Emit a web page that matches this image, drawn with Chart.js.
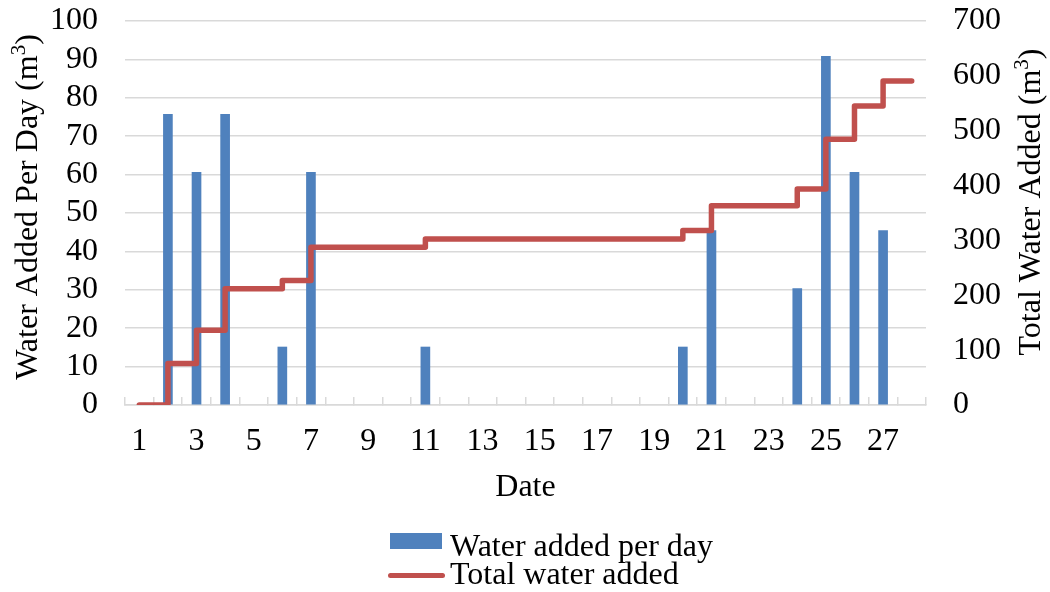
<!DOCTYPE html>
<html lang="en">
<head>
    <meta charset="UTF-8">
    <title>Water Added</title>
    <style>
        body {
            margin: 0;
            background-color: #ffffff;
            font-family: "Liberation Serif", "Times New Roman", serif;
        }
        .container {
            position: relative;
            width: 1050px;
            height: 592px;
        }
        .legend-item {
            position: absolute;
            left: 450px;
            font-size: 32px;
            line-height: 32px;
            color: #000000;
            white-space: nowrap;
        }
        .legend-bar {
            position: absolute;
            left: 390px;
            top: 533px;
            width: 52px;
            height: 16px;
            background-color: #4f81bd;
        }
        .legend-line {
            position: absolute;
            left: 388px;
            top: 573px;
            width: 57px;
            height: 5px;
            border-radius: 3px;
            background-color: #c0504d;
        }
    </style>
    <script src="https://cdn.jsdelivr.net/npm/chart.js"></script>
</head>
<body>
    <div class="container">
        <canvas id="waterChart"></canvas>
        <div class="legend-bar"></div>
        <div class="legend-item" style="top: 529px;">Water added per day</div>
        <div class="legend-line"></div>
        <div class="legend-item" style="top: 557px;">Total water added</div>
    </div>

    <script>
        // Days of the month
        const days = ['1', '2', '3', '4', '5', '6', '7', '8', '9', '10', '11', '12', '13', '14',
                      '15', '16', '17', '18', '19', '20', '21', '22', '23', '24', '25', '26', '27', '28'];

        // Water added per day (m3), left axis (null = nothing added)
        const dailyWater = [null, 75.7, 60.6, 75.7, null, 15.1, 60.6, null, null, null, 15.1, null, null, null,
                            null, null, null, null, null, 15.1, 45.4, null, null, 30.3, 90.8, 60.6, 45.4, null];

        // Total water added (m3), right axis
        const totalWater = [0, 75.7, 136.3, 212, 212, 227.1, 287.7, 287.7, 287.7, 287.7, 302.8, 302.8, 302.8, 302.8,
                            302.8, 302.8, 302.8, 302.8, 302.8, 317.9, 363.3, 363.3, 363.3, 393.6, 484.4, 545, 590.4, 590.4];

        const fontFamily = '"Liberation Serif", "Times New Roman", serif';
        const gridColor = '#d9d9d9';

        // Both axis titles read bottom-to-top and carry a superscript 3, so draw them ourselves
        const axisTitles = {
            id: 'axisTitles',
            afterDraw(chart) {
                const ctx = chart.ctx;
                const titles = [
                    { text: 'Water Added Per Day (m', x: 27, y: 207 },
                    { text: 'Total Water Added (m', x: 1030, y: 202 }
                ];
                const mainFont = '32px ' + fontFamily;
                const supFont = '21px ' + fontFamily;
                titles.forEach(function (t) {
                    ctx.save();
                    ctx.translate(t.x, t.y);
                    ctx.rotate(-Math.PI / 2);
                    ctx.fillStyle = '#000000';
                    ctx.textAlign = 'left';
                    ctx.textBaseline = 'alphabetic';
                    ctx.font = mainFont;
                    const w1 = ctx.measureText(t.text).width;
                    const w3 = ctx.measureText(')').width;
                    ctx.font = supFont;
                    const w2 = ctx.measureText('3').width;
                    const start = -(w1 + w2 + w3) / 2;
                    const base = 10;
                    ctx.font = mainFont;
                    ctx.fillText(t.text, start, base);
                    ctx.font = supFont;
                    ctx.fillText('3', start + w1, base - 12);
                    ctx.font = mainFont;
                    ctx.fillText(')', start + w1 + w2, base);
                    ctx.restore();
                });
            }
        };

        const ctx = document.getElementById('waterChart').getContext('2d');
        const waterChart = new Chart(ctx, {
            type: 'bar',
            data: {
                labels: days,
                datasets: [{
                    type: 'line',
                    label: 'Total water added',
                    data: totalWater,
                    yAxisID: 'y1',
                    borderColor: '#c0504d',
                    borderWidth: 5.5,
                    borderCapStyle: 'round',
                    borderJoinStyle: 'round',
                    stepped: 'before',
                    pointRadius: 0,
                    fill: false,
                    order: 0
                }, {
                    type: 'bar',
                    label: 'Water added per day',
                    data: dailyWater,
                    yAxisID: 'y',
                    backgroundColor: '#4f81bd',
                    barThickness: 9,
                    order: 1
                }]
            },
            options: {
                responsive: true,
                maintainAspectRatio: false,
                animation: false,
                layout: {
                    padding: { top: 21, bottom: 85, left: 0, right: 0 }
                },
                plugins: {
                    legend: { display: false },
                    tooltip: { enabled: false }
                },
                scales: {
                    x: {
                        offset: true,
                        grid: {
                            offset: true,
                            drawOnChartArea: false,
                            drawTicks: true,
                            tickLength: -8,
                            color: gridColor,
                            lineWidth: 1.5
                        },
                        border: { color: gridColor, width: 1.5 },
                        ticks: {
                            autoSkip: false,
                            maxRotation: 0,
                            padding: 25,
                            color: '#000000',
                            font: { family: fontFamily, size: 32 },
                            callback: function (value, index) {
                                return index % 2 === 0 ? this.getLabelForValue(value) : '';
                            }
                        },
                        title: {
                            display: true,
                            text: 'Date',
                            color: '#000000',
                            font: { family: fontFamily, size: 32 },
                            padding: { top: 0, bottom: 0 }
                        },
                        afterFit: function (scale) {
                            scale.height = 102;
                        }
                    },
                    y: {
                        position: 'left',
                        min: 0,
                        max: 100,
                        ticks: {
                            stepSize: 10,
                            autoSkip: false,
                            padding: 0,
                            color: '#000000',
                            font: { family: fontFamily, size: 32 }
                        },
                        grid: {
                            color: gridColor,
                            lineWidth: 1.5,
                            drawTicks: true,
                            tickLength: 27,
                            tickColor: 'rgba(0,0,0,0)'
                        },
                        border: { display: false },
                        afterFit: function (scale) {
                            scale.width = 125;
                        }
                    },
                    y1: {
                        position: 'right',
                        min: 0,
                        max: 700,
                        ticks: {
                            stepSize: 100,
                            autoSkip: false,
                            padding: 0,
                            color: '#000000',
                            font: { family: fontFamily, size: 32 }
                        },
                        grid: {
                            drawOnChartArea: false,
                            drawTicks: true,
                            tickLength: 27,
                            tickColor: 'rgba(0,0,0,0)'
                        },
                        border: { display: false },
                        afterFit: function (scale) {
                            scale.width = 124;
                        }
                    }
                }
            },
            plugins: [axisTitles]
        });
    </script>
</body>
</html>
